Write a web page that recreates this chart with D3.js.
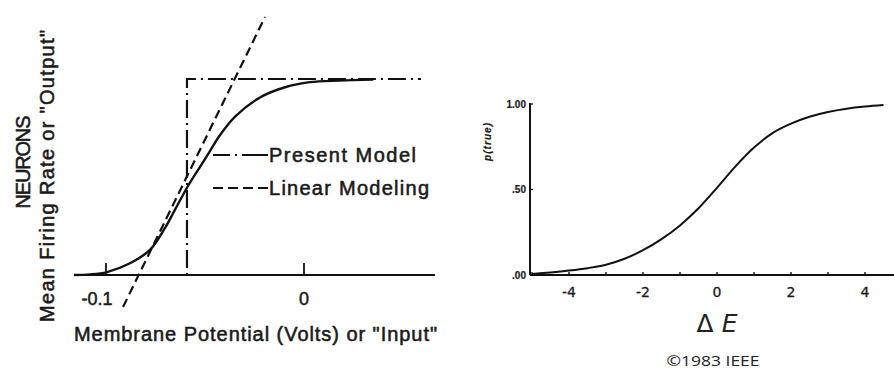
<!DOCTYPE html>
<html><head><meta charset="utf-8">
<script src="https://cdn.jsdelivr.net/npm/d3@7"></script>
<style>body{margin:0;background:#fff}svg{display:block}</style>
</head><body>
<svg id="c" width="894" height="372"></svg>
<script>
// ---------- Left panel data (membrane potential in volts, output 0..1) ----------
const leftSigmoidV   = [-0.1162,-0.108,-0.0995,-0.0879,-0.0778,-0.0702,-0.0652,-0.0586,-0.0525,-0.0475,-0.0424,-0.0348,-0.0222,-0.0096,0.003,0.018,0.035];
const leftSigmoidOut = [0,0.003,0.015,0.06,0.128,0.24,0.332,0.454,0.552,0.632,0.714,0.808,0.906,0.958,0.984,0.992,0.997];
const stepV   = [-0.1162,-0.0591,-0.0591,0.0591];
const stepOut = [0,0,1,1];
const linearV   = [-0.0914,-0.0197];
const linearOut = [-0.163,1.316];
const leftTicks = [-0.1, 0];
const leftTickLabels = ["-0.1","0"];
const legendLabels = ["Present Model","Linear Modeling"];

// ---------- Right panel data ----------
const deltaE = [-5,-4.5,-4,-3.5,-3,-2.5,-2,-1.5,-1,-0.5,0,0.5,1,1.5,2,2.5,3,3.5,4,4.5];
const pTrue  = [0.006,0.015,0.026,0.04,0.06,0.095,0.145,0.21,0.29,0.39,0.51,0.635,0.745,0.83,0.885,0.925,0.953,0.972,0.985,0.994];
const rightXTicks = [-4,-2,0,2,4];
const rightXMinor = [-5,-4,-3,-2,-1,0,1,2,3,4];
const rightYTicks = [0,0.5,1];
const rightYLabels = [".00",".50","1.00"];

const svg = d3.select("#c");
const ink = "#111";
const tcol = "#1a1a1a";
const font = "'Liberation Sans', Arial, sans-serif";

function heavy(sel, w){ return sel.attr("stroke",tcol).attr("stroke-width",w).attr("fill",tcol); }

// ===== Left panel =====
const xL = d3.scaleLinear().domain([-0.1,0]).range([106,304]);
const yL = d3.scaleLinear().domain([0,1]).range([275,79]);
const lineL = d3.line().x(d=>xL(d[0])).y(d=>yL(d[1]));

const gL = svg.append("g");
gL.append("line").attr("x1",74).attr("x2",435).attr("y1",yL(0)).attr("y2",yL(0))
  .attr("stroke",ink).attr("stroke-width",2.2);
gL.selectAll(".tk").data(leftTicks).join("line")
  .attr("x1",d=>xL(d)).attr("x2",d=>xL(d)).attr("y1",yL(0)).attr("y2",yL(0)-12)
  .attr("stroke",ink).attr("stroke-width",1.8);
heavy(gL.selectAll(".tl").data(leftTicks).join("text")
  .attr("x",(d,i)=>xL(d)+(i===0?-9:0)).attr("y",305)
  .attr("text-anchor","middle").attr("font-family",font).attr("font-size",18)
  .text((d,i)=>leftTickLabels[i]),0.5);

gL.append("path").datum(stepV.map((v,i)=>[v,stepOut[i]])).attr("d",lineL)
  .attr("fill","none").attr("stroke",ink).attr("stroke-width",2.2)
  .attr("stroke-dasharray","18,5,2,5");
gL.append("path").datum(linearV.map((v,i)=>[v,linearOut[i]])).attr("d",lineL)
  .attr("fill","none").attr("stroke",ink).attr("stroke-width",2.2)
  .attr("stroke-dasharray","9,5");
gL.append("path").datum(leftSigmoidV.map((v,i)=>[v,leftSigmoidOut[i]]))
  .attr("d",d3.line().x(d=>xL(d[0])).y(d=>yL(d[1])).curve(d3.curveCatmullRom.alpha(0.5)))
  .attr("fill","none").attr("stroke",ink).attr("stroke-width",2.4);

// legend
const legY = [155,188];
gL.append("line").attr("x1",213).attr("x2",268).attr("y1",legY[0]).attr("y2",legY[0])
  .attr("stroke",ink).attr("stroke-width",2).attr("stroke-dasharray","17,5,2,5,40");
gL.append("line").attr("x1",213).attr("x2",268).attr("y1",legY[1]).attr("y2",legY[1])
  .attr("stroke",ink).attr("stroke-width",2).attr("stroke-dasharray","10,5");
heavy(gL.selectAll(".lg").data(legendLabels).join("text")
  .attr("x",269).attr("y",(d,i)=>legY[i]+7)
  .attr("font-family",font).attr("font-size",20)
  .attr("textLength",(d,i)=>i===0?147:160).attr("lengthAdjust","spacing")
  .text(d=>d),0.55);

heavy(gL.append("text").attr("x",74).attr("y",341).attr("font-family",font).attr("font-size",20)
  .attr("textLength",363).attr("lengthAdjust","spacing")
  .text("Membrane Potential (Volts) or \"Input\""),0.55);
heavy(gL.append("text").attr("transform","translate(30,162) rotate(-90)")
  .attr("text-anchor","middle").attr("font-family",font).attr("font-size",20)
  .attr("textLength",93).attr("lengthAdjust","spacing")
  .text("NEURONS"),0.55);
heavy(gL.append("text").attr("transform","translate(54,176) rotate(-90)")
  .attr("text-anchor","middle").attr("font-family",font).attr("font-size",20)
  .attr("textLength",292).attr("lengthAdjust","spacing")
  .text("Mean Firing Rate or \"Output\""),0.55);

// ===== Right panel =====
const xR = d3.scaleLinear().domain([0,2]).range([717,791]);
const yR = d3.scaleLinear().domain([0,1]).range([275,104]);
const gR = svg.append("g");
gR.append("line").attr("x1",530).attr("x2",894).attr("y1",yR(0)).attr("y2",yR(0))
  .attr("stroke",ink).attr("stroke-width",2);
gR.append("line").attr("x1",530).attr("x2",530).attr("y1",yR(0)).attr("y2",yR(1)-1)
  .attr("stroke",ink).attr("stroke-width",2);
gR.selectAll(".mx").data(rightXMinor).join("line")
  .attr("x1",d=>xR(d)).attr("x2",d=>xR(d)).attr("y1",yR(0)).attr("y2",yR(0)-3)
  .attr("stroke",ink).attr("stroke-width",1.4);
heavy(gR.selectAll(".xl").data(rightXTicks).join("text")
  .attr("x",d=>xR(d)).attr("y",297).attr("text-anchor","middle")
  .attr("font-family","'DejaVu Sans', sans-serif").attr("font-size",14)
  .text(d=>d<0?"-"+Math.abs(d):String(d)),0.3);
gR.selectAll(".yt").data(rightYTicks).join("line")
  .attr("x1",530).attr("x2",533).attr("y1",d=>yR(d)).attr("y2",d=>yR(d))
  .attr("stroke",ink).attr("stroke-width",1.3);
heavy(gR.selectAll(".yl").data(rightYTicks).join("text")
  .attr("x",526).attr("y",d=>yR(d)+3.5).attr("text-anchor","end")
  .attr("font-family",font).attr("font-weight","bold").attr("font-size",10)
  .text((d,i)=>rightYLabels[i]),0.2);
heavy(gR.append("text").attr("transform","translate(491,142) rotate(-90)")
  .attr("text-anchor","middle").attr("font-family",font).attr("font-style","italic")
  .attr("font-weight","bold").attr("font-size",10)
  .attr("textLength",38).attr("lengthAdjust","spacing").text("p(true)"),0.2);
gR.append("path").datum(deltaE.map((v,i)=>[v,pTrue[i]]))
  .attr("d",d3.line().x(d=>xR(d[0])).y(d=>yR(d[1])).curve(d3.curveCatmullRom.alpha(0.5)))
  .attr("fill","none").attr("stroke",ink).attr("stroke-width",2);
const de = gR.append("text").attr("x",717).attr("y",332).attr("text-anchor","middle")
  .attr("font-family","'DejaVu Sans', sans-serif").attr("font-size",25).attr("fill","#222");
de.append("tspan").text("Δ ");
de.append("tspan").attr("font-style","italic").text("E");
gR.append("text").attr("x",713).attr("y",366).attr("text-anchor","middle")
  .attr("font-family","'Open Sans', sans-serif").attr("font-size",15).attr("fill","#222")
  .attr("textLength",93).attr("lengthAdjust","spacingAndGlyphs").text("©1983 IEEE");
</script>
</body></html>
